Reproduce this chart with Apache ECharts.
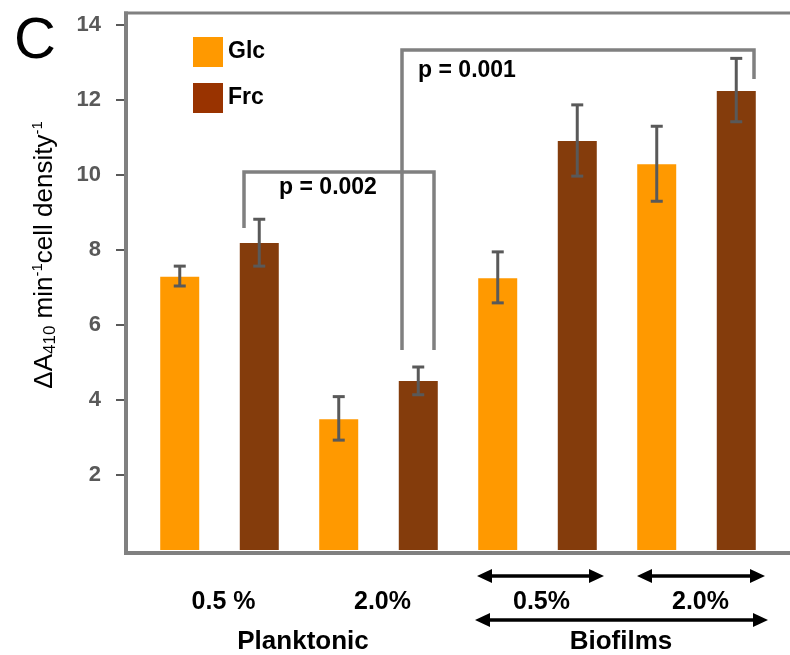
<!DOCTYPE html>
<html><head><meta charset="utf-8">
<script src="https://cdn.jsdelivr.net/npm/echarts@6/dist/echarts.min.js"></script>
<style>html,body{margin:0;padding:0;background:#fff}#c{width:790px;height:655px}</style>
</head><body><div id="c"></div>
<script>
const categories = ['0.5 %', '2.0%', '0.5%', '2.0%'];
const groups = ['Planktonic', 'Biofilms'];
const glcValues = [7.29, 3.49, 7.25, 10.29];
const glcLow = [7.04, 2.93, 6.59, 9.30];
const glcHigh = [7.57, 4.09, 7.95, 11.30];
const frcValues = [8.19, 4.51, 10.91, 12.24];
const frcLow = [7.57, 4.14, 9.97, 11.42];
const frcHigh = [8.82, 4.88, 11.87, 13.11];
const yTicks = [2, 4, 6, 8, 10, 12, 14];

const FONT = 'Liberation Sans, Arial, sans-serif';
const GLC = '#FF9900', FRC = '#843C0C', FRC_LEG = '#993300';
const FRAME = '#808080';

function errSeries(name, low, high, sign) {
  return {
    name: name, type: 'custom', z: 10, silent: true,
    encode: { x: 0, y: [1, 2] },
    data: low.map((l, i) => [i, l, high[i]]),
    renderItem: function (params, api) {
      const i = api.value(0);
      const pLo = api.coord([i, api.value(1)]);
      const pHi = api.coord([i, api.value(2)]);
      const band = api.size([1, 0])[0];
      const cx = pLo[0] + sign * band / 4;
      const st = { stroke: '#595959', lineWidth: 3 };
      return { type: 'group', children: [
        { type: 'line', shape: { x1: cx, y1: pLo[1], x2: cx, y2: pHi[1] }, style: st },
        { type: 'line', shape: { x1: cx - 6, y1: pLo[1], x2: cx + 6, y2: pLo[1] }, style: st },
        { type: 'line', shape: { x1: cx - 6, y1: pHi[1], x2: cx + 6, y2: pHi[1] }, style: st }
      ]};
    }
  };
}

function arrow(x1, x2, y) {
  return [
    { type: 'line', z: 100, shape: { x1: x1 + 8, y1: y, x2: x2 - 8, y2: y }, style: { stroke: '#000', lineWidth: 3.5 } },
    { type: 'polygon', z: 100, shape: { points: [[x1, y], [x1 + 15, y - 7], [x1 + 15, y + 7]] }, style: { fill: '#000' } },
    { type: 'polygon', z: 100, shape: { points: [[x2, y], [x2 - 15, y - 7], [x2 - 15, y + 7]] }, style: { fill: '#000' } }
  ];
}

const chart = echarts.init(document.getElementById('c'), null, { renderer: 'canvas' });
chart.setOption({
  animation: false,
  backgroundColor: '#fff',
  textStyle: { fontFamily: FONT },
  grid: { left: 140, right: 14, top: 13, bottom: 105 },
  legend: {
    orient: 'vertical', left: 188, top: 32, itemWidth: 30, itemHeight: 30, itemGap: 16,
    icon: 'rect', selectedMode: false,
    textStyle: { fontFamily: FONT, fontSize: 23, fontWeight: 'bold', color: '#000', padding: [6, 0, 0, 0] },
    data: [{ name: 'Glc', itemStyle: { color: GLC } }, { name: 'Frc', itemStyle: { color: FRC_LEG } }]
  },
  xAxis: [
    { type: 'category', data: categories, axisLine: { show: false }, axisTick: { show: false },
      axisLabel: { margin: 40, fontSize: 25, fontWeight: 'bold', color: '#000', fontFamily: FONT,
        padding: [0, 0, 0, 8] } },
    { type: 'category', data: groups, position: 'bottom', axisLine: { show: false }, axisTick: { show: false },
      axisLabel: { margin: 79, fontSize: 26, fontWeight: 'bold', color: '#000', fontFamily: FONT,
        padding: [0, 0, 0, 8] } }
  ],
  yAxis: {
    type: 'value', min: 0, max: 14.32, interval: 2, offset: 14,
    splitLine: { show: false },
    axisLine: { show: false },
    axisTick: { show: true, length: 10, lineStyle: { color: '#595959', width: 2 }, customValues: yTicks },
    axisLabel: { margin: 25, fontSize: 22, fontWeight: 'bold', color: '#595959', fontFamily: FONT, customValues: yTicks }
  },
  series: [
    { name: 'Glc', type: 'bar', data: glcValues, barWidth: 39, barGap: '104%', itemStyle: { color: GLC } },
    { name: 'Frc', type: 'bar', data: frcValues, barWidth: 39, barGap: '104%', itemStyle: { color: FRC } },
    errSeries('errGlc', glcLow, glcHigh, -1),
    errSeries('errFrc', frcLow, frcHigh, 1)
  ],
  graphic: [
    { type: 'text', z: 100, x: 35, y: 42, style: { text: 'C', font: '58px ' + FONT, fill: '#000', align: 'center', verticalAlign: 'middle' } },
    { type: 'line', z: 100, shape: { x1: 126, y1: 11.5, x2: 126, y2: 555 }, style: { stroke: FRAME, lineWidth: 4 } },
    { type: 'line', z: 100, shape: { x1: 124, y1: 13, x2: 790, y2: 13 }, style: { stroke: FRAME, lineWidth: 3 } },
    { type: 'line', z: 100, shape: { x1: 124, y1: 553, x2: 790, y2: 553 }, style: { stroke: FRAME, lineWidth: 4 } },
    { type: 'polyline', z: 100, shape: { points: [[244, 228], [244, 172], [434, 172], [434, 350]] }, style: { stroke: FRAME, lineWidth: 3.5, fill: null } },
    { type: 'polyline', z: 100, shape: { points: [[402, 350], [402, 50], [754, 50], [754, 79]] }, style: { stroke: FRAME, lineWidth: 3.5, fill: null } },
    { type: 'text', z: 100, x: 328, y: 188, style: { text: 'p = 0.002', font: 'bold 23px ' + FONT, fill: '#000', align: 'center', verticalAlign: 'middle' } },
    { type: 'text', z: 100, x: 467, y: 71, style: { text: 'p = 0.001', font: 'bold 23px ' + FONT, fill: '#000', align: 'center', verticalAlign: 'middle' } },
    ...arrow(477, 604, 576),
    ...arrow(637, 765, 576),
    ...arrow(475, 768, 620),
    { type: 'text', z: 100, x: 45, y: 255, rotation: Math.PI / 2,
      style: {
        text: '{m|\u0394A}{sub|410}{m| min}{sup|-1}{m|cell density}{sup|-1}',
        align: 'center', verticalAlign: 'middle', fill: '#000',
        rich: {
          m: { fontSize: 26, fontFamily: FONT, color: '#000' },
          sub: { fontSize: 17, fontFamily: FONT, color: '#000', padding: [11, 0, 0, 0] },
          sup: { fontSize: 15, fontFamily: FONT, color: '#000', padding: [0, 0, 15, 0] }
        }
      } }
  ]
});
</script>
</body></html>
